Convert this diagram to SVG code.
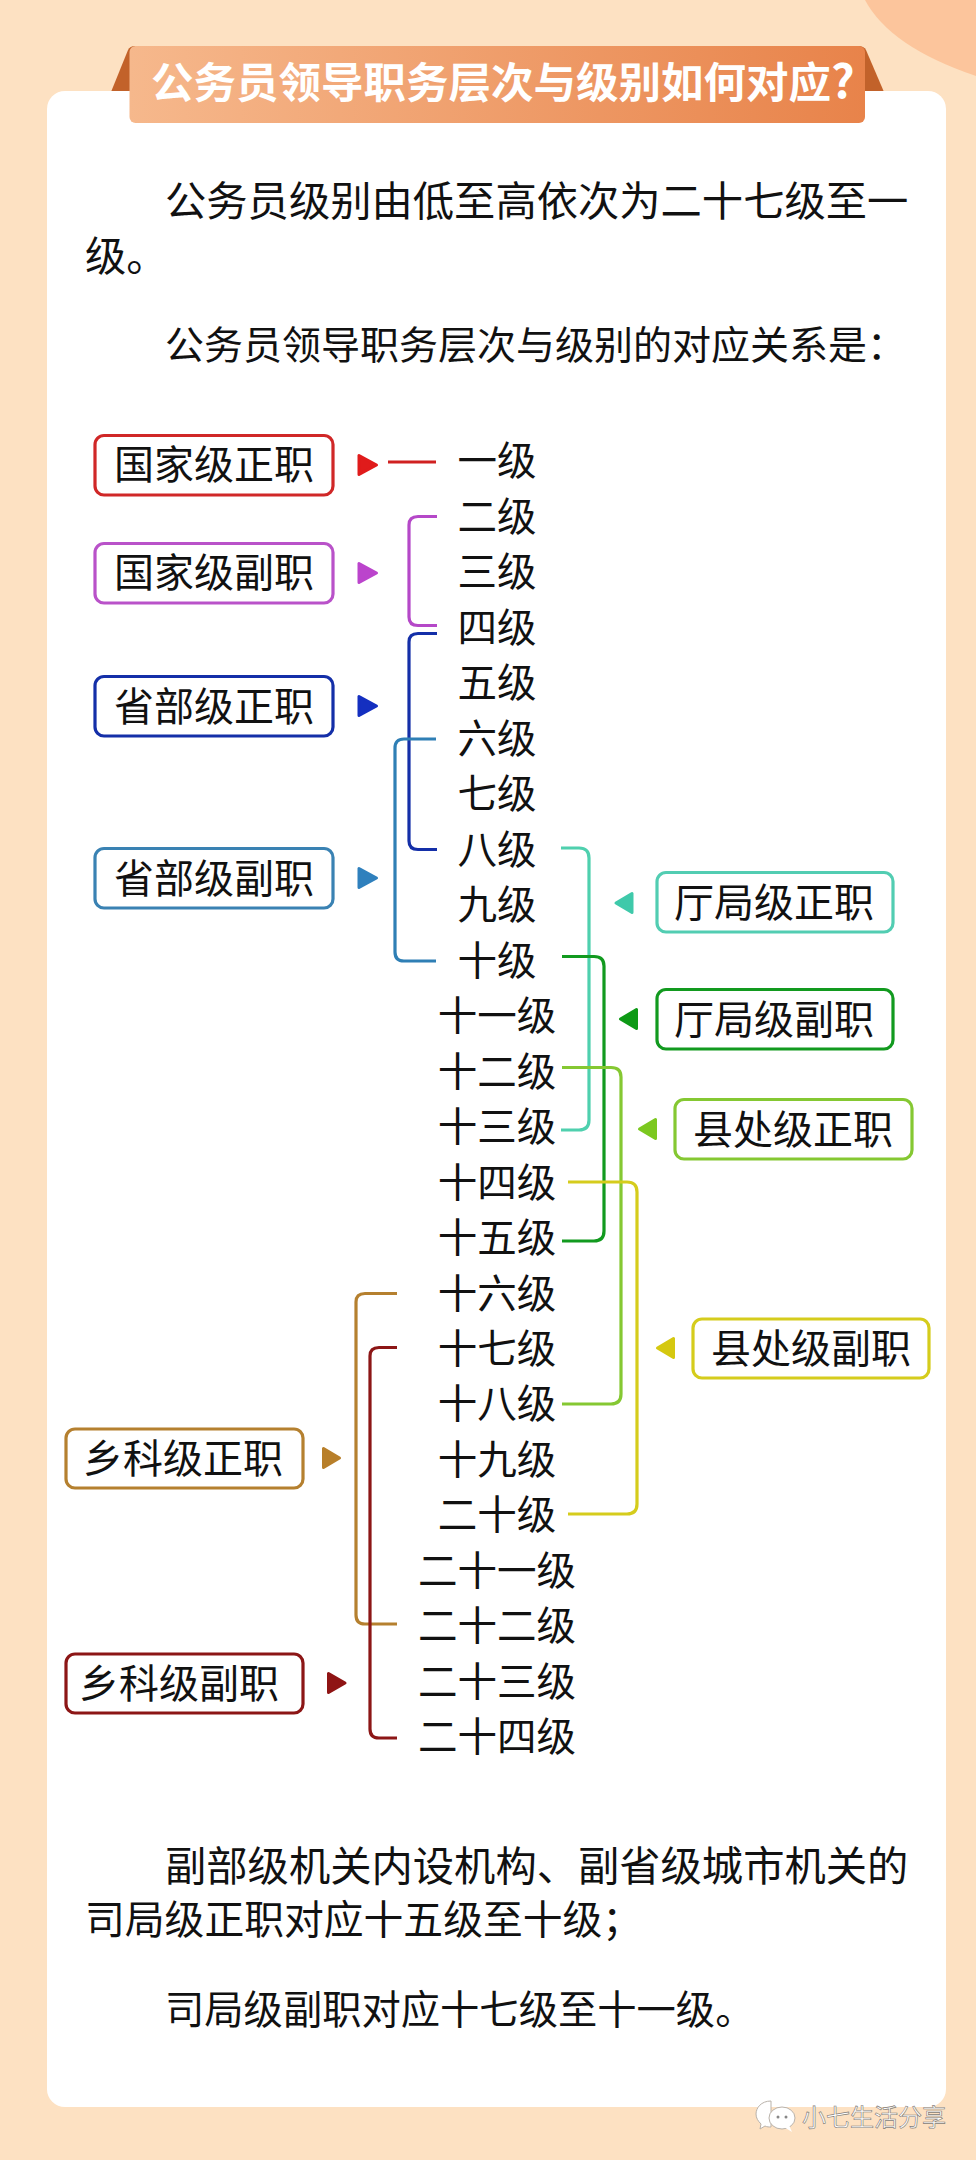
<svg xmlns="http://www.w3.org/2000/svg" width="976" height="2160" viewBox="0 0 976 2160">
<style>
text{font-family:"Noto Sans CJK SC","Noto Sans",sans-serif;fill:#111}
.p{font-size:40px}
.lv{font-size:39.500px;text-anchor:middle}
.bx{font-size:40px;text-anchor:middle}
.box{fill:#fff;stroke-width:3.2}
.c{fill:none;stroke-width:3.2}
.t{stroke-width:3;stroke-linejoin:round}
</style>
<defs>
<linearGradient id="tg" x1="0" x2="1" y1="0" y2="0"><stop offset="0" stop-color="#f6b88c"/><stop offset="1" stop-color="#e8834a"/></linearGradient>
</defs>
<rect width="976" height="2160" fill="#fde1c2"/>
<path d="M865 0Q890 47 976 76V0Z" fill="#fcc59c"/>
<path d="M111 92L128 50Q130 46 135 46H858Q864 46 866 50L884 92Z" fill="#c2622a"/>
<rect x="47" y="91" width="899" height="2016" rx="18" fill="#fff"/>
<g id="title">
<rect x="129.500" y="46" width="735.500" height="77" rx="6" fill="url(#tg)"/>
<text x="151" y="98" font-size="42.500" font-weight="700" style="fill:#fff">公务员领导职务层次与级别如何对应<tspan font-size="46">?</tspan></text>
</g>
<g id="intro">
<text class="p" x="165" y="216" style="font-size:41.300px">公务员级别由低至高依次为二十七级至一</text>
<text class="p" x="85" y="271" style="font-size:41.300px">级。</text>
<text class="p" x="165" y="359" style="font-size:39px">公务员领导职务层次与级别的对应关系是：</text>
</g>
<g id="connectors">
<path class="c" stroke="#d02020" d="M388 462H436"/>
<path class="c" stroke="#b548c8" d="M437 516.500H418Q409 516.500 409 525V617Q409 625.500 418 625.500H437"/>
<path class="c" stroke="#142fa8" d="M437 633.500H418Q409 633.500 409 642V841Q409 849.500 418 849.500H437"/>
<path class="c" stroke="#2f7fb5" d="M436 739H404Q395 739 395 748V952Q395 961 404 961H436"/>
<path class="c" stroke="#4fd0ae" d="M561 848H579Q589 848 589 858V1120Q589 1130 579 1130H561"/>
<path class="c" stroke="#129a1f" d="M562 956.500H594Q604 956.500 604 966V1231Q604 1241 594 1241H562"/>
<path class="c" stroke="#85c832" d="M562 1067.500H611Q621 1067.500 621 1077V1394Q621 1404 611 1404H562"/>
<path class="c" stroke="#d5cc1c" d="M568 1182H627Q637 1182 637 1192V1504Q637 1514 627 1514H568"/>
<path class="c" stroke="#b5802f" d="M397 1293.500H365Q356 1293.500 356 1302V1615Q356 1624 365 1624H397"/>
<path class="c" stroke="#8c1616" d="M397 1347.500H379Q370 1347.500 370 1356V1729Q370 1738 379 1738H397"/>
<polygon class="t" fill="#e01b1b" stroke="#e01b1b" points="359,455.500 359,474.500 376.500,465"/>
<polygon class="t" fill="#bb44cc" stroke="#bb44cc" points="359,563.500 359,582.500 376.500,573"/>
<polygon class="t" fill="#142fc0" stroke="#142fc0" points="359,696.500 359,715.500 376.500,706"/>
<polygon class="t" fill="#2f80bd" stroke="#2f80bd" points="359,868.500 359,887.500 376.500,878"/>
<polygon class="t" fill="#3fc9aa" stroke="#3fc9aa" points="632,893.500 632,912.500 616,903"/>
<polygon class="t" fill="#0e9a16" stroke="#0e9a16" points="636.500,1009.500 636.500,1028.500 620.500,1019"/>
<polygon class="t" fill="#7cc820" stroke="#7cc820" points="655.500,1119.500 655.500,1138.500 639.500,1129"/>
<polygon class="t" fill="#d5c810" stroke="#d5c810" points="673.500,1338.500 673.500,1357.500 657.500,1348"/>
<polygon class="t" fill="#b87f2a" stroke="#b87f2a" points="323.500,1448.500 323.500,1467.500 339.500,1458"/>
<polygon class="t" fill="#8f1414" stroke="#8f1414" points="328.500,1673.500 328.500,1692.500 345,1683"/>
</g>
<g id="n-guojia-zheng"><rect class="box" x="95" y="435.500" width="238" height="59.500" rx="9" stroke="#d02727"/><text class="bx" x="214" y="479">国家级正职</text></g>
<g id="n-guojia-fu"><rect class="box" x="95" y="543.500" width="238" height="59.500" rx="9" stroke="#b952c9"/><text class="bx" x="214" y="587">国家级副职</text></g>
<g id="n-shengbu-zheng"><rect class="box" x="95" y="676.500" width="238" height="59.500" rx="9" stroke="#142fa8"/><text class="bx" x="214" y="721">省部级正职</text></g>
<g id="n-shengbu-fu"><rect class="box" x="95" y="848.500" width="238" height="59.500" rx="9" stroke="#3a82b3"/><text class="bx" x="214" y="893">省部级副职</text></g>
<g id="n-tingju-zheng"><rect class="box" x="657" y="872.500" width="236" height="59.500" rx="9" stroke="#52cdb2"/><text class="bx" x="774" y="917">厅局级正职</text></g>
<g id="n-tingju-fu"><rect class="box" x="657" y="989.500" width="236" height="59.500" rx="9" stroke="#129a1f"/><text class="bx" x="774" y="1034">厅局级副职</text></g>
<g id="n-xianchu-zheng"><rect class="box" x="675" y="1099.500" width="237" height="59.500" rx="9" stroke="#85c832"/><text class="bx" x="793" y="1144">县处级正职</text></g>
<g id="n-xianchu-fu"><rect class="box" x="693" y="1319" width="236" height="59" rx="9" stroke="#d5cc1c"/><text class="bx" x="811" y="1363">县处级副职</text></g>
<g id="n-xiangke-zheng"><rect class="box" x="66" y="1429" width="237" height="59" rx="9" stroke="#b5802f"/><text class="bx" x="183" y="1473">乡科级正职</text></g>
<g id="n-xiangke-fu"><rect class="box" x="66" y="1654" width="237" height="59" rx="9" stroke="#8c1616"/><text class="bx" x="179" y="1698">乡科级副职</text></g>
<g id="levels">
<text class="lv" x="497" y="475">一级</text>
<text class="lv" x="497" y="531">二级</text>
<text class="lv" x="497" y="586">三级</text>
<text class="lv" x="497" y="642">四级</text>
<text class="lv" x="497" y="697">五级</text>
<text class="lv" x="497" y="753">六级</text>
<text class="lv" x="497" y="808">七级</text>
<text class="lv" x="497" y="864">八级</text>
<text class="lv" x="497" y="919">九级</text>
<text class="lv" x="497" y="975">十级</text>
<text class="lv" x="497" y="1030">十一级</text>
<text class="lv" x="497" y="1086">十二级</text>
<text class="lv" x="497" y="1141">十三级</text>
<text class="lv" x="497" y="1197">十四级</text>
<text class="lv" x="497" y="1252">十五级</text>
<text class="lv" x="497" y="1308">十六级</text>
<text class="lv" x="497" y="1363">十七级</text>
<text class="lv" x="497" y="1418">十八级</text>
<text class="lv" x="497" y="1474">十九级</text>
<text class="lv" x="497" y="1529">二十级</text>
<text class="lv" x="497" y="1585">二十一级</text>
<text class="lv" x="497" y="1640">二十二级</text>
<text class="lv" x="497" y="1696">二十三级</text>
<text class="lv" x="497" y="1751">二十四级</text>
</g>
<g id="outro">
<text class="p" x="165" y="1881" style="font-size:41.300px">副部级机关内设机构、副省级城市机关的</text>
<text class="p" x="85" y="1934" style="font-size:39.800px">司局级正职对应十五级至十级；</text>
<text class="p" x="165" y="2024" style="font-size:39.300px">司局级副职对应十七级至十一级。</text>
</g>
<g id="watermark">
<path d="M771 2101C761 2101 756 2108 756 2114C756 2118 758 2121 761 2124L760 2129L765 2126C767 2127 769 2127 771 2127Z" fill="#fff" stroke="#b9b2aa" stroke-width="1"/>
<ellipse cx="782" cy="2118" rx="13" ry="11" fill="#fff" stroke="#b9b2aa" stroke-width="1"/>
<path d="M784 2127L792 2132L789 2125Z" fill="#fff"/>
<circle cx="778" cy="2117" r="1.500" fill="#888"/><circle cx="786" cy="2117" r="1.500" fill="#888"/>
<text x="802" y="2126" font-size="24" style="fill:#fff;stroke:#7f7a74;stroke-width:.6px">小七生活分享</text>
</g>
</svg>
